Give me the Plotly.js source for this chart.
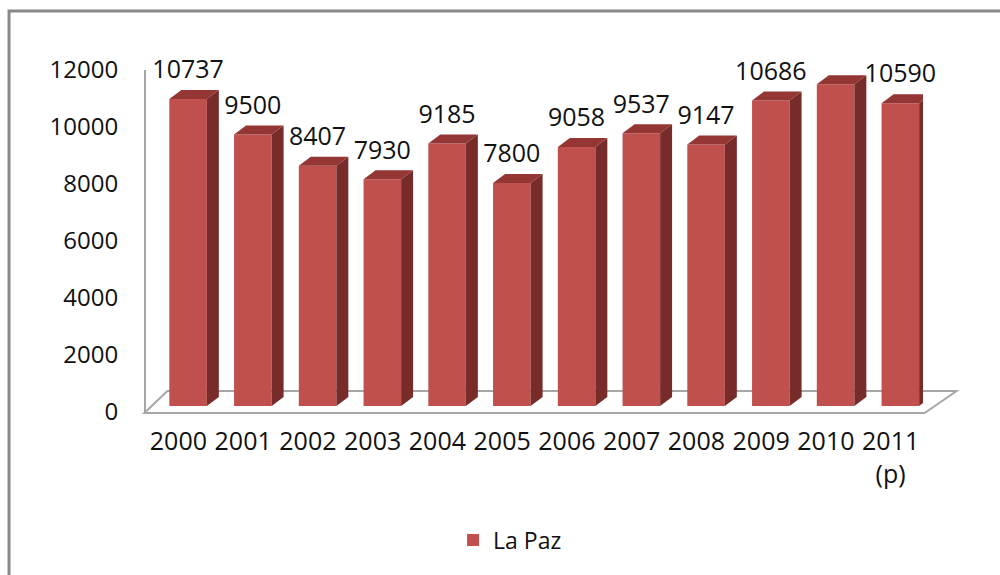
<!DOCTYPE html>
<html>
<head>
<meta charset="utf-8">
<script src="https://cdn.plot.ly/plotly-3.0.1.min.js"></script>
<style>html,body{margin:0;padding:0;background:#fff;}#chart{width:1000px;height:575px;}</style>
</head>
<body>
<div id="chart"></div>
<script>
// ---- data ----
const years = ['2000','2001','2002','2003','2004','2005','2006','2007','2008','2009','2010','2011<br>(p)'];
const values = [10737, 9500, 8407, 7930, 9185, 7800, 9058, 9537, 9147, 10686, 11257, 10590];
const seriesName = 'La Paz';
const yTicks = [0, 2000, 4000, 6000, 8000, 10000, 12000];
const yTickText = ['0', '2000', '4000', '6000', '8000', '10000', '12000'];

// ---- styles ----
const FONT = 'Open Sans, Lato, DejaVu Sans, sans-serif';
const TXT = '#111111';
const frontColor = '#C0504D';
const topColor = '#943634';
const sideColor = '#772C2A';
const barWidth = 0.58;
const barOffset = -0.14;
const depthX = 0.185;   // horizontal depth in category units
const depthY = 315;     // vertical depth in value units
const labelLift = 944;

// plot area geometry (px)
const L = 145.6, R = 923.4, T = 70, B = 412;
const W = 1000, H = 575;
const px2x = p => (p - L) / (R - L);
const py2y = p => (B - p) / (B - T);

const idx = values.map((_, i) => i);

// side and top faces from data
const sideX = [], sideY = [], topX = [], topY = [];
values.forEach((v, i) => {
  const xl = i + barOffset, xr = xl + barWidth;
  sideX.push(xr, xr + depthX, xr + depthX, xr, xr, null);
  sideY.push(0, depthY, v + depthY, v, 0, null);
  topX.push(xl, xr, xr + depthX, xl + depthX, xl, null);
  topY.push(v, v, v + depthY, v + depthY, v, null);
});

const traces = [
  // empty trace that just attaches the labelled value axis to the subplot
  {type: 'scatter', mode: 'markers', x: [], y: [], yaxis: 'y', showlegend: false, hoverinfo: 'skip'},
  {
    type: 'bar', x: idx, y: values, name: seriesName, yaxis: 'y2',
    width: barWidth, offset: barOffset,
    marker: {color: frontColor, line: {width: 0}},
    hoverinfo: 'skip'
  },
  {
    type: 'scatter', mode: 'lines', x: sideX, y: sideY, yaxis: 'y2',
    fill: 'toself', fillcolor: sideColor, line: {width: 0, color: sideColor},
    showlegend: false, hoverinfo: 'skip'
  },
  {
    type: 'scatter', mode: 'lines', x: topX, y: topY, yaxis: 'y2',
    fill: 'toself', fillcolor: topColor, line: {width: 0, color: topColor},
    showlegend: false, hoverinfo: 'skip'
  },
  {
    type: 'scatter', mode: 'text', yaxis: 'y2',
    x: idx.map(i => i + barOffset + barWidth / 2),
    y: values.map(v => v + labelLift),
    text: values.map(v => String(v)),
    textposition: 'middle center',
    textfont: {family: FONT, size: 25, color: TXT},
    cliponaxis: false, showlegend: false, hoverinfo: 'skip'
  }
];

const layout = {
  width: W, height: H,
  margin: {l: L, r: W - R, t: T, b: H - B, pad: 0},
  paper_bgcolor: '#ffffff', plot_bgcolor: 'rgba(0,0,0,0)',
  font: {family: FONT, size: 25, color: TXT},
  showlegend: true,
  legend: {
    orientation: 'h', x: px2x(453), y: py2y(540), xanchor: 'left', yanchor: 'middle',
    font: {family: FONT, size: 23, color: TXT}, bgcolor: 'rgba(0,0,0,0)'
  },
  xaxis: {
    range: [-0.5, 11.5], tickmode: 'array', tickvals: idx, ticktext: years,
    showgrid: false, zeroline: false, showline: false, ticks: '',
    ticklabelstandoff: 12,
    tickfont: {family: FONT, size: 25, color: TXT}, fixedrange: true
  },
  yaxis: {
    range: [0, 12000], tickmode: 'array', tickvals: yTicks, ticktext: yTickText,
    showgrid: false, zeroline: false, showline: true, linecolor: '#a6a6a6', linewidth: 2,
    ticks: '', ticklabelstandoff: 21,
    tickfont: {family: FONT, size: 24, color: TXT}, fixedrange: true
  },
  yaxis2: {
    overlaying: 'y', range: [-210, 11752], visible: false, fixedrange: true
  },
  shapes: [
    {
      type: 'path', xref: 'paper', yref: 'paper', layer: 'below',
      path: 'M' + px2x(144) + ',' + py2y(413) + ' L' + px2x(925) + ',' + py2y(413) +
            ' L' + px2x(957) + ',' + py2y(391) + ' L' + px2x(167) + ',' + py2y(391) + ' Z',
      line: {color: '#a6a6a6', width: 2}, fillcolor: 'rgba(0,0,0,0)'
    },
    {
      type: 'rect', xref: 'paper', yref: 'paper', layer: 'below',
      x0: px2x(8.5), x1: px2x(1020), y0: py2y(11), y1: py2y(600),
      line: {color: '#898989', width: 3}, fillcolor: 'rgba(0,0,0,0)'
    }
  ]
};

Plotly.newPlot('chart', traces, layout, {displayModeBar: false, staticPlot: true});
</script>
</body>
</html>
